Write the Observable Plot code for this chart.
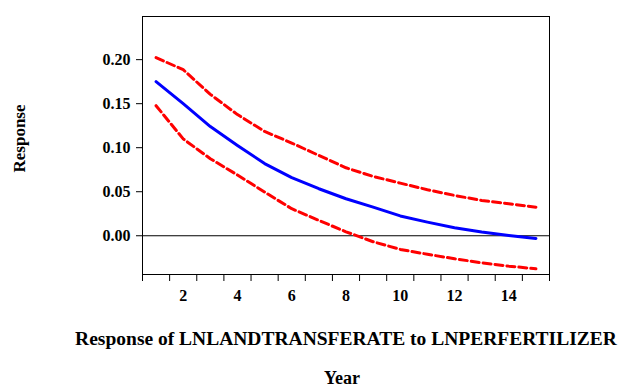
<!DOCTYPE html>
<html>
<head>
<meta charset="utf-8">
<script src="https://cdn.jsdelivr.net/npm/d3@7"></script>
<script src="https://cdn.jsdelivr.net/npm/@observablehq/plot@0.6"></script>
<style>
  html, body { margin: 0; padding: 0; background: #fff; }
</style>
</head>
<body>
<div id="chart"></div>
<script>
const years = [1, 2, 3, 4, 5, 6, 7, 8, 9, 10, 11, 12, 13, 14, 15];
const responseVals = [0.175, 0.150, 0.124, 0.1026, 0.082, 0.066, 0.0534, 0.042, 0.0325, 0.0225, 0.0155, 0.0091, 0.0042, 0.0004, -0.003];
const upperVals = [0.2023, 0.1886, 0.1606, 0.1376, 0.1185, 0.1053, 0.0912, 0.0772, 0.0674, 0.0598, 0.0523, 0.0458, 0.0401, 0.0364, 0.0325];
const lowerVals = [0.1477, 0.110, 0.0875, 0.069, 0.0496, 0.0307, 0.0174, 0.0045, -0.0068, -0.0155, -0.021, -0.0261, -0.0307, -0.0345, -0.0375];
const yTickVals = [0.00, 0.05, 0.10, 0.15, 0.20];
const xTickLabels = [2, 4, 6, 8, 10, 12, 14];
const xTickMarks = [0.5, 1.5, 2.5, 3.5, 4.5, 5.5, 6.5, 7.5, 8.5, 9.5, 10.5, 11.5, 12.5, 13.5, 14.5, 15.5];
const titleText = "Response of LNLANDTRANSFERATE to LNPERFERTILIZER";
const xTitle = "Year";
const yTitle = "Response";

const FONT = "Liberation Serif";

const resp = years.map((yr, i) => ({year: yr, value: responseVals[i]}));
const upper = years.map((yr, i) => ({year: yr, value: upperVals[i]}));
const lower = years.map((yr, i) => ({year: yr, value: lowerVals[i]}));

const chart = Plot.plot({
  width: 623,
  height: 387,
  marginLeft: 142,
  marginRight: 74,
  marginTop: 16,
  marginBottom: 113,
  style: {background: "#fff", color: "#000"},
  x: {domain: [0.5, 15.5]},
  y: {domain: [-0.044, 0.249]},
  marks: [
    Plot.ruleY([0], {stroke: "#000", strokeWidth: 1}),
    Plot.frame({stroke: "#000", strokeWidth: 1}),
    Plot.axisY({ticks: yTickVals, tickFormat: d3.format(".2f"), tickSize: 6, tickPadding: 6, label: null, fontSize: 16, fontFamily: FONT, fontWeight: "bold", stroke: "#000"}),
    Plot.axisX({ticks: xTickMarks, tickSize: 7, tickFormat: () => "", label: null, stroke: "#000"}),
    Plot.axisX({ticks: xTickLabels, tickSize: 0, tickPadding: 15, label: null, fontSize: 16, fontFamily: FONT, fontWeight: "bold"}),
    Plot.line(upper, {x: "year", y: "value", stroke: "#ff0000", strokeWidth: 3, strokeDasharray: "8,4"}),
    Plot.line(lower, {x: "year", y: "value", stroke: "#ff0000", strokeWidth: 3, strokeDasharray: "8,4"}),
    Plot.line(resp, {x: "year", y: "value", stroke: "#0000ff", strokeWidth: 3}),
    Plot.text([titleText], {frameAnchor: "bottom", text: d => d, dy: 64, fontSize: 19.5, fontFamily: FONT, fontWeight: "bold", textAnchor: "middle", lineAnchor: "middle"}),
    Plot.text([xTitle], {frameAnchor: "bottom", text: d => d, dx: -4, dy: 104, fontSize: 18, fontFamily: FONT, fontWeight: "bold", textAnchor: "middle", lineAnchor: "middle"}),
    Plot.text([yTitle], {frameAnchor: "left", text: d => d, dx: -123, dy: -7, rotate: -90, fontSize: 17, fontFamily: FONT, fontWeight: "bold", textAnchor: "middle", lineAnchor: "middle"})
  ]
});
d3.select(chart).attr("font-family", FONT).attr("font-weight", "bold");
d3.select(chart).selectAll("text").attr("font-family", FONT).attr("font-weight", "bold").style("font-family", "'" + FONT + "'").style("font-weight", "bold");
document.getElementById("chart").appendChild(chart);
</script>
</body>
</html>
